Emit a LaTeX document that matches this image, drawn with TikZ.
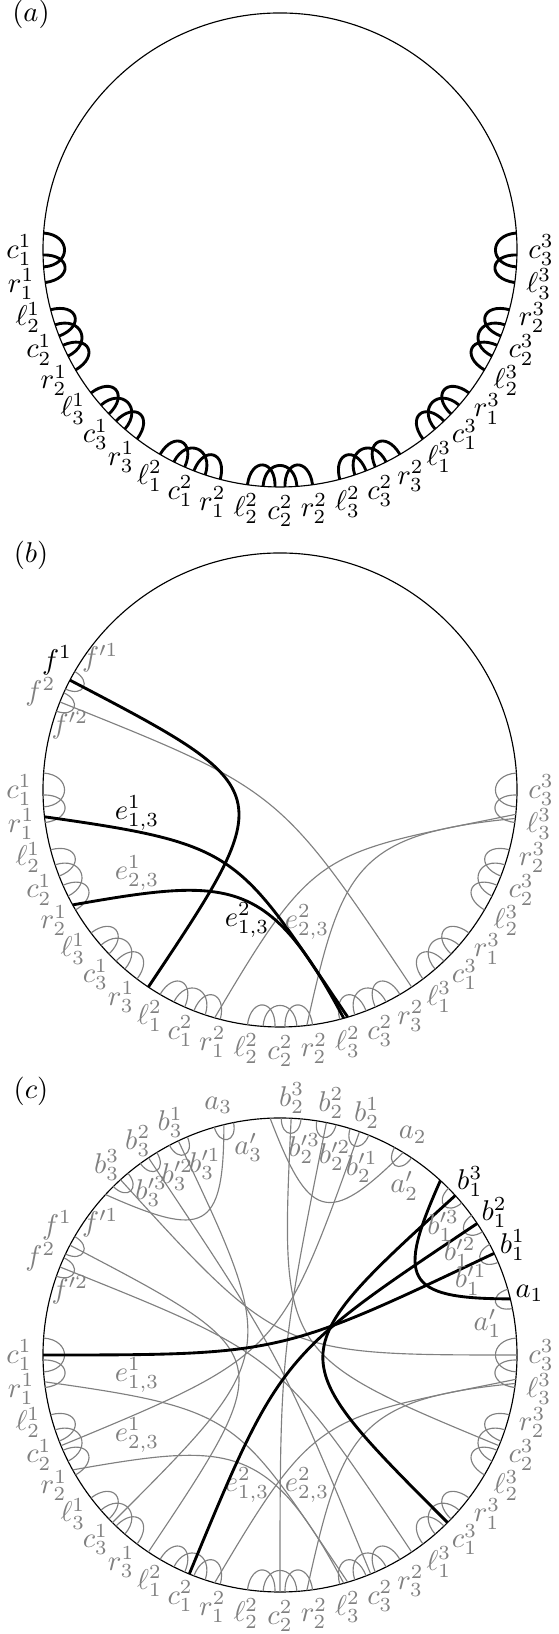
\documentclass[tikz,border=0pt]{standalone}
\usepackage{amsmath}
\tikzset{
  thinl/.style={line width=0.4pt},
  thickl/.style={line width=1pt},
  gline/.style={draw=gray,line width=0.4pt},
  glab/.style={text=gray,inner sep=0pt},
  blab/.style={text=black,inner sep=0pt},
}
\newcommand\gadgetloops[1]{%
  \foreach \g in {0,...,8}{%
    \pgfmathsetmacro\th{180+22.5*\g}%
    \ifnum\g>0
      \draw[#1] (\th-7.9:237) .. controls (\th-7.9:209) and (\th-1.2:209) .. (\th-1.2:237);
    \fi
    \draw[#1] (\th-4.1:237) .. controls (\th-4.1:209) and (\th+4.1:209) .. (\th+4.1:237);
    \ifnum\g<8
      \draw[#1] (\th+1.2:237) .. controls (\th+1.2:209) and (\th+7.9:209) .. (\th+7.9:237);
    \fi
  }}
\newcommand\gadgetlabels[2]{%
  \foreach \k/\lbl in {0/c_1^1,1/r_1^1,2/\ell_2^1,3/c_2^1,4/r_2^1,5/\ell_3^1,6/c_3^1,7/r_3^1,8/\ell_1^2,9/c_1^2,10/r_1^2,11/\ell_2^2,12/c_2^2,13/r_2^2,14/\ell_3^2,15/c_3^2,16/r_3^2,17/\ell_1^3,18/c_1^3,19/r_1^3,20/\ell_2^3,21/c_2^3,22/r_2^3,23/\ell_3^3,24/c_3^3}{%
    \node[#2] (#1lab\k) at (180+7.5*\k:261) {$\lbl$};
  }}
\newcommand\fpart[3]{%
  \coordinate (#1f1) at (152.4:237);
  \coordinate (#1f2) at (158.2:237);
  \coordinate (#1f1e) at (236.25:237);
  \coordinate (#1f2e) at (303.75:237);
  \draw[gline] (150:237) .. controls (150:217) and (154.8:217) .. (154.8:237);
  \draw[gline] (155.8:237) .. controls (155.8:217) and (160.6:217) .. (160.6:237);
  \draw[gline] (#1f2) .. controls (#1O) and (#1O) .. (#1f2e);
  \draw[#2] (#1f1) .. controls (#1O) and (#1O) .. (#1f1e);
  \node[#3] (#1labf1) at (149.8:258) {$f^1$};
  \node[glab] (#1labfa) at (143.7:223) {$f^{\prime 1}$};
  \node[glab] (#1labf2) at (157.7:259) {$f^2$};
  \node[glab] (#1labfb) at (162.8:220) {$f^{\prime 2}$};
}
\newcommand\echords[3]{%
  \coordinate (#1r11) at (186.5:237);
  \coordinate (#1r21) at (209:237);
  \coordinate (#1l32a) at (286.6:237);
  \coordinate (#1l32b) at (285.6:237);
  \coordinate (#1r12) at (254:237);
  \coordinate (#1r22) at (276.5:237);
  \coordinate (#1l33a) at (354.1:237);
  \coordinate (#1l33b) at (353.1:237);
  \draw[#3] (#1r12) to[out=59.5,in=191.5,looseness=1.4] (#1l33a);
  \draw[#3] (#1r22) to[out=77.5,in=185.5,looseness=1.4] (#1l33b);
  \draw[#2] (#1r11) to[out=-8,in=124,looseness=1.4] (#1l32a);
  \draw[#2] (#1r21) to[out=10,in=118,looseness=1.4] (#1l32b);
}
\newcommand\cgroup[3]{%
  \pgfmathsetmacro\ph{45*#1}%
  \pgfmathtruncatemacro\jj{#1+1}%
  \pgfmathsetmacro\cAng{180+22.5*#1}%
  \pgfmathsetmacro\cBng{247.5+22.5*#1}%
  \pgfmathsetmacro\cCng{315+22.5*#1}%
  \pgfmathsetmacro\uo{246+\ph}%
  \pgfmathsetmacro\ui{180+\ph}%
  \coordinate (ga\jj) at (13.7+\ph:237);
  \coordinate (gba\jj) at (25.4+\ph:237);
  \coordinate (gbb\jj) at (33.7+\ph:237);
  \coordinate (gbc\jj) at (42.3+\ph:237);
  \coordinate (gt\jj) at (47.4+\ph:237);
  \coordinate (gca\jj) at (\cAng:237);
  \coordinate (gcb\jj) at (\cBng:237);
  \coordinate (gcc\jj) at (\cCng:237);
  \foreach \pa in {13.7,25.4,33.7,42.3}{%
    \draw[gline] (\pa+\ph-2.4:237) .. controls (\pa+\ph-2.4:217) and (\pa+\ph+2.4:217) .. (\pa+\ph+2.4:237);
  }
  \draw[#2] (gt\jj) to[out=\uo,in=\ui,looseness=2] (ga\jj);
  \draw[#2] (gba\jj) .. controls (cO) and (cO) .. (gca\jj);
  \draw[#2] (gbb\jj) .. controls (cO) and (cO) .. (gcb\jj);
  \draw[#2] (gbc\jj) .. controls (cO) and (cO) .. (gcc\jj);
  \node[#3] (la\jj) at (13.9+\ph:257) {$a_{\jj}$};
  \node[#3] (lba\jj) at (25.3+\ph:257) {$b_{\jj}^1$};
  \node[#3] (lbb\jj) at (33.6+\ph:257) {$b_{\jj}^2$};
  \node[#3] (lbc\jj) at (42.4+\ph:257) {$b_{\jj}^3$};
  \node[glab] (lpa\jj) at (8.7+\ph:210) {$a'_{\jj}$};
  \node[glab] (lpba\jj) at (21.5+\ph:205) {$b^{\prime 1}_{\jj}$};
  \node[glab] (lpbb\jj) at (29.7+\ph:207) {$b^{\prime 2}_{\jj}$};
  \node[glab] (lpbc\jj) at (38.3+\ph:208) {$b^{\prime 3}_{\jj}$};
}
\begin{document}
\begin{tikzpicture}[x=0.35pt,y=0.35pt]
\useasboundingbox (0,0) rectangle (559,1634);
% ---------------- (a)
\node[blab] (pa) at (31,1620) {$(a)$};
\begin{scope}[shift={(280,1384)}]
  \coordinate (aO) at (0,0);
  \draw[thinl] (aO) circle (237);
  \gadgetloops{thickl}
  \gadgetlabels{a}{blab}
\end{scope}
% ---------------- (b)
\node[blab] (pb) at (31,1079) {$(b)$};
\begin{scope}[shift={(280,844)}]
  \coordinate (bO) at (0,0);
  \draw[thinl] (bO) circle (237);
  \gadgetloops{gline}
  \gadgetlabels{b}{glab}
  \echords{b}{thickl}{gline}
  \fpart{b}{thickl}{blab}
  \node[blab] (be1) at (-143,-23) {$e^1_{1,3}$};
  \node[glab] (be2) at (-143,-83) {$e^1_{2,3}$};
  \node[blab] (be3) at (-33,-130) {$e^2_{1,3}$};
  \node[glab] (be4) at (27,-132) {$e^2_{2,3}$};
\end{scope}
% ---------------- (c)
\node[blab] (pc) at (31,543) {$(c)$};
\begin{scope}[shift={(280,279)}]
  \coordinate (cO) at (0,0);
  \draw[thinl] (cO) circle (237);
  \gadgetloops{gline}
  \gadgetlabels{c}{glab}
  \echords{c}{gline}{gline}
  \fpart{c}{gline}{glab}
  \node[glab] (ce1) at (-143,-20) {$e^1_{1,3}$};
  \node[glab] (ce2) at (-143,-80) {$e^1_{2,3}$};
  \node[glab] (ce3) at (-33,-130) {$e^2_{1,3}$};
  \node[glab] (ce4) at (27,-130) {$e^2_{2,3}$};
  \cgroup{1}{gline}{glab}
  \cgroup{2}{gline}{glab}
  \cgroup{0}{thickl}{blab}
\end{scope}
\end{tikzpicture}
\end{document}
